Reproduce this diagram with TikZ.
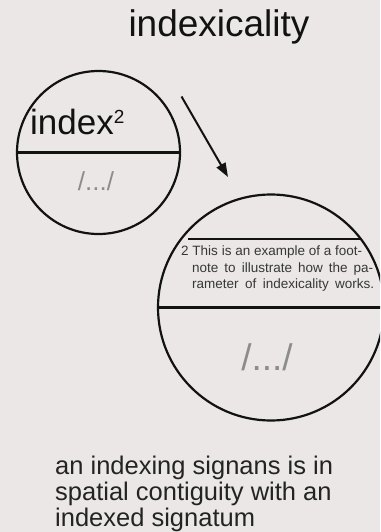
\documentclass[tikz,border=0pt]{standalone}
\usepackage{fontspec}
\setmainfont{Liberation Sans}
\usetikzlibrary{arrows.meta}
\definecolor{bg}{RGB}{235,231,231}
\definecolor{ink}{RGB}{18,18,18}
\definecolor{soft}{RGB}{140,140,140}
\definecolor{fn}{RGB}{55,55,55}
\definecolor{body}{RGB}{35,35,35}
\begin{document}
\begin{tikzpicture}[x=1pt,y=-1pt,
  ring/.style={circle, draw=ink, line width=2.2pt, inner sep=0pt},
  divider/.style={draw=ink, line width=2.2pt},
  fnline/.style={anchor=base west, inner sep=0pt, text=fn, font=\fontsize{13.5}{15}\selectfont},
  bodyline/.style={anchor=base west, inner sep=0pt, text=body, font=\fontsize{25.5}{26}\selectfont},
  dotsmark/.style={anchor=base, inner sep=0pt, text=soft}
]
\fill[bg] (0,0) rectangle (380,532);
\useasboundingbox (0,0) rectangle (380,532);
\clip (0,0) rectangle (380,532);

\node[anchor=base, inner sep=0pt, text=ink, font=\fontsize{37}{40}\selectfont] (title) at (219,37) {indexicality};

% left circle
\node[ring, minimum size=163pt] (L) at (98.5,152.5) {};
\draw[divider] (L.west) -- (L.east);
\node[anchor=base west, inner sep=0pt, text=ink, font=\fontsize{35}{40}\selectfont] (idx) at (30,134) {index\raisebox{10pt}{\fontsize{19}{20}\selectfont 2}};
\node[dotsmark, font=\fontsize{26}{30}\selectfont] (ldots) at (96,190) {/.../};

% arrow
\coordinate (a1) at (181.5,96.5);
\coordinate (a2) at (228,177);
\draw[draw=ink, line width=2pt, -{Triangle[length=14pt,width=10pt]}] (a1) -- (a2);

% right circle
\node[ring, minimum size=226pt] (R) at (271,307.5) {};
\draw[divider] (R.west) -- (R.east);
\coordinate (r1) at (188,239);
\coordinate (r2) at (361,239);
\draw[draw=ink, line width=1.6pt] (r1) -- (r2);
\node[fnline] (f1) at (181,255) {\makebox[181pt][s]{2 This is an example of a foot-}};
\node[fnline] (f2) at (192,272) {\makebox[181pt][s]{note to illustrate how the pa-}};
\node[fnline] (f3) at (192,288) {\makebox[182pt][s]{rameter of indexicality works.}};
\node[dotsmark, font=\fontsize{37}{40}\selectfont] (rdots) at (267,370) {/.../};

% caption
\node[bodyline] (b1) at (55,474) {an indexing signans is in};
\node[bodyline] (b2) at (55,500) {spatial contiguity with an};
\node[bodyline] (b3) at (55,526) {indexed signatum};
\end{tikzpicture}
\end{document}
